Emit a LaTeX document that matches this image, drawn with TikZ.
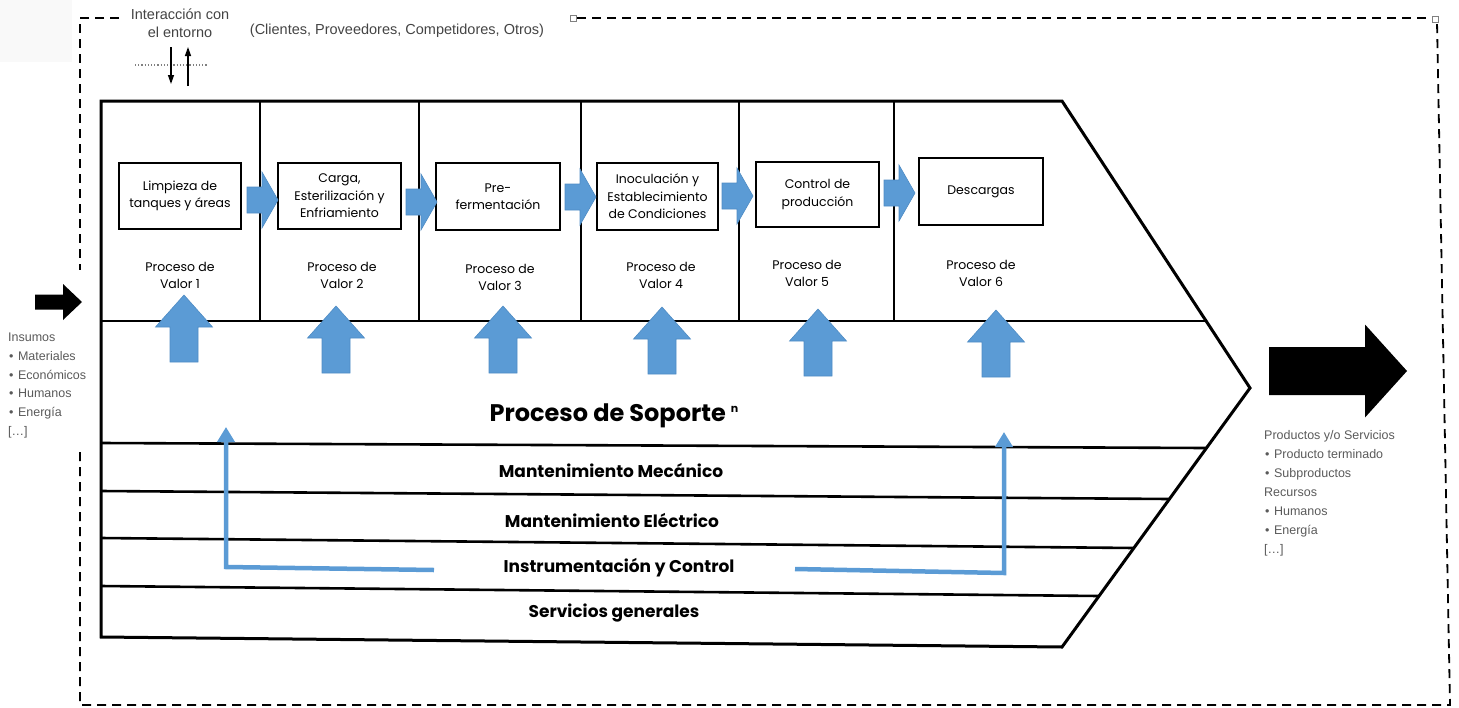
\documentclass[tikz,border=0pt]{standalone}
\usepackage{fontspec}
\setmainfont{Liberation Sans}
\newfontfamily\geo{Poppins}
\usetikzlibrary{arrows.meta,calc}

\definecolor{valblue}{HTML}{5B9BD5}
\definecolor{valedge}{HTML}{4F8CC4}
\definecolor{notegray}{HTML}{5A5A5A}
\definecolor{topgray}{HTML}{444444}

\tikzset{
  frame/.style={draw=black, line width=3pt, line join=miter},
  band/.style={draw=black, line width=2.6pt},
  stepbox/.style={draw=black, line width=2.2pt, fill=white, inner sep=0pt,
    align=center, font=\geo\fontsize{12.5}{17.5}\selectfont},
  vlabel/.style={align=center, inner sep=0pt, font=\geo\fontsize{12.5}{17}\selectfont},
  suplabel/.style={inner sep=0pt, font=\geo\bfseries\fontsize{17}{20}\selectfont},
  note/.style={text=notegray, inner sep=0pt, anchor=base west,
    font=\fontsize{12.5}{15}\selectfont},
  toptext/.style={text=topgray, inner sep=0pt, align=center,
    font=\fontsize{14.5}{18}\selectfont},
  blockfill/.style={fill=valblue, draw=valedge, line width=0.6pt},
  feed/.style={draw=valblue, line width=4.5pt, line join=miter,
    -{Triangle[width=17pt,length=15pt]}},
  outline/.style={draw=black, line width=1.8pt, dash pattern=on 9pt off 6pt},
  handle/.style={draw=gray, fill=white, line width=0.6pt, minimum size=6pt,
    inner sep=0pt},
  thinarrow/.style={draw=black, line width=1.3pt, -{Triangle[width=6pt,length=9pt]}},
  pics/uparrow/.style={code={
    \path[blockfill] (0,0) -- (28.5,32) -- (14,32) -- (14,67) -- (-14,67)
      -- (-14,32) -- (-28.5,32) -- cycle;}},
  pics/rightarrow/.style={code={
    \path[blockfill] (0,-13) -- (15,-13) -- (15,-28) -- (31,0) -- (15,28)
      -- (15,13) -- (0,13) -- cycle;}},
  % tip distance / shaft half height / head start / head half height
  pics/blackarrow/.style args={#1/#2/#3/#4}{code={
    \fill[black] (0,-#2) -- (#3,-#2) -- (#3,-#4) -- (#1,0) -- (#3,#4)
      -- (#3,#2) -- (0,#2) -- cycle;}},
}

\begin{document}
\begin{tikzpicture}[x=1pt,y=-1pt]
\useasboundingbox (0,0) rectangle (1459,707);
\fill[gray!5] (0,0) rectangle (72,62);

% ---------- outer dashed boundary ----------
\draw[outline] (119,18) -- (80,18) -- (80,270);
\draw[outline] (80,452) -- (80,705) -- (1450,705) -- (1437,22);
\draw[outline] (577,18) -- (1431,18);
\node[handle] (h1) at (573,18) {};
\node[handle] (h2) at (1435,19) {};

% ---------- environment interaction ----------
\node[toptext] (env) at (180,23) {Interacción con\\el entorno};
\node[toptext, anchor=center] (actors) at (397,31)
  {(Clientes, Proveedores, Competidores, Otros)};
\coordinate (envL) at (135,65);
\coordinate (envR) at (207,65);
\draw[gray, line width=1.2pt, dotted] (envL) -- (envR);
\coordinate (dnA) at (171,47);
\coordinate (dnB) at (171,84);
\coordinate (upA) at (188,86);
\coordinate (upB) at (188,47);
\draw[thinarrow] (dnA) -- (dnB);
\draw[thinarrow] (upA) -- (upB);

% ---------- value chain chevron ----------
\coordinate (tl) at (101,101);
\coordinate (tr) at (1062,101);
\coordinate (tip) at (1250,388);
\coordinate (br) at (1062,647);
\coordinate (bl) at (101,637);
\draw[frame] (tl) -- (tr) -- (tip) -- (br) -- (bl) -- cycle;

% primary / support separation
\draw[band] (101,321) -- (1205,321);
\foreach \x in {260,419,581,739,894}
  \draw[band] (\x,101) -- (\x,321);

% support bands
\draw[band] (101,443) -- (1206,448);
\draw[band] (101,491) -- (1169,499);
\draw[band] (101,538) -- (1134,548);
\draw[band] (101,586) -- (1099,596);

% ---------- value processes ----------
\node[stepbox, minimum width=122pt, minimum height=66pt] (b1) at (180,196)
  {Limpieza de\\tanques y áreas};
\node[stepbox, minimum width=123pt, minimum height=66pt] (b2) at (339.5,196)
  {Carga,\\Esterilización y\\Enfriamiento};
\node[stepbox, minimum width=124pt, minimum height=67pt] (b3) at (498,196.5)
  {Pre-\\fermentación};
\node[stepbox, minimum width=121pt, minimum height=67pt] (b4) at (657.5,196.5)
  {Inoculación y\\Establecimiento\\de Condiciones};
\node[stepbox, minimum width=123pt, minimum height=65pt] (b5) at (817.5,194.5)
  {Control de\\producción};
\node[stepbox, minimum width=124pt, minimum height=67pt] (b6) at (981,191.5)
  {Descargas};

\node[vlabel] (v1) at (180,275) {Proceso de\\Valor 1};
\node[vlabel] (v2) at (342,275) {Proceso de\\Valor 2};
\node[vlabel] (v3) at (500,277) {Proceso de\\Valor 3};
\node[vlabel] (v4) at (661,275) {Proceso de\\Valor 4};
\node[vlabel] (v5) at (807,273) {Proceso de\\Valor 5};
\node[vlabel] (v6) at (981,273) {Proceso de\\Valor 6};

% flow between processes
\pic at (247,200) {rightarrow};
\pic at (406,202) {rightarrow};
\pic at (565,197) {rightarrow};
\pic at (722,196) {rightarrow};
\pic at (884,193) {rightarrow};

% support feeding each process
\pic at (184,295) {uparrow};
\pic at (336,306) {uparrow};
\pic at (503,306) {uparrow};
\pic at (662,307) {uparrow};
\pic at (818,309) {uparrow};
\pic at (996,310) {uparrow};

% ---------- support processes ----------
\node[inner sep=0pt, font=\geo\bfseries\fontsize{24}{26}\selectfont] (sop) at (614,416)
  {Proceso de Soporte \raisebox{9pt}{\fontsize{11}{11}\selectfont n}};
\node[suplabel] (s1) at (611,471) {Mantenimiento Mecánico};
\node[suplabel] (s2) at (612,520) {Mantenimiento Eléctrico};
\node[suplabel] (s3) at (619,568) {Instrumentación y Control};
\node[suplabel] (s4) at (614,613) {Servicios generales};

\coordinate (fl0) at (434,570);
\coordinate (fl1) at (226,567);
\coordinate (fl2) at (226,427);
\coordinate (fr0) at (795,569);
\coordinate (fr1) at (1004,573);
\coordinate (fr2) at (1004,432);
\draw[feed] (fl0) -- (fl1) -- (fl2);
\draw[feed] (fr0) -- (fr1) -- (fr2);

% ---------- inputs and outputs ----------
\pic at (35,302) {blackarrow={47/7.5/28/18}};
\pic at (1269,371) {blackarrow={138/24/96/46.5}};

\node[note] (in0) at (8,341.5) {Insumos};
\foreach \t [count=\i] in {Materiales,Económicos,Humanos,Energía}
  \node[note] (in\i) at (9,{341.5+18.8*\i}) {•\hspace{4.5pt}\t};
\node[note] (in5) at (8,435.5) {[…]};

\node[note] (out0) at (1264,439.5) {Productos y/o Servicios};
\node[note] (out1) at (1265,458.5) {•\hspace{4.5pt}Producto terminado};
\node[note] (out2) at (1265,477.5) {•\hspace{4.5pt}Subproductos};
\node[note] (out3) at (1264,496.5) {Recursos};
\node[note] (out4) at (1265,515.5) {•\hspace{4.5pt}Humanos};
\node[note] (out5) at (1265,534.5) {•\hspace{4.5pt}Energía};
\node[note] (out6) at (1264,553.5) {[…]};
\end{tikzpicture}
\end{document}
